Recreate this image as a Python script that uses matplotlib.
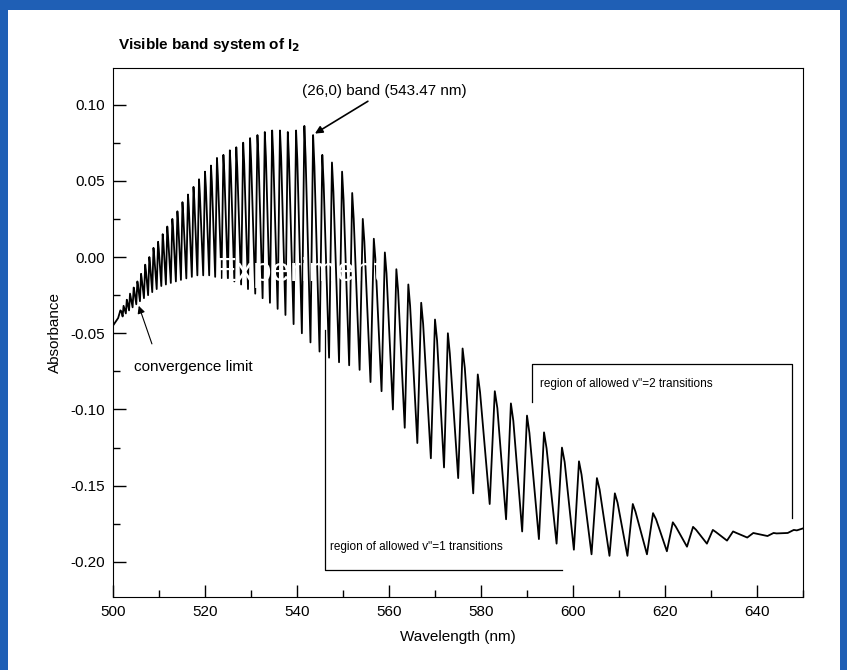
import matplotlib.pyplot as plt
import matplotlib.patches as patches
from matplotlib.ticker import MultipleLocator

# band head wavelengths (nm), peak absorbance and trough absorbance just before each head
band_pos = [501.6, 502.3, 503.0, 503.7, 504.5, 505.3, 506.1, 507.0, 507.9, 508.8,
            509.8, 510.8, 511.8, 512.9, 514.0, 515.1, 516.3, 517.5, 518.7, 520.0,
            521.3, 522.6, 524.0, 525.4, 526.8, 528.3, 529.8, 531.4, 533.0, 534.6,
            536.3, 538.0, 539.8, 541.6, 543.5, 545.5, 547.6, 549.8, 552.0, 554.3,
            556.7, 559.1, 561.6, 564.2, 567.0, 570.0, 572.8, 576.0, 579.3, 583.0,
            586.5, 590.0, 593.7, 597.6, 601.3, 605.2, 609.1, 613.0, 617.4, 621.7,
            626.1, 630.4, 634.8, 639.2, 643.6, 648.0]
band_peak = [-0.035, -0.032, -0.028, -0.024, -0.020, -0.016, -0.011, -0.005, 0.000, 0.006,
             0.010, 0.015, 0.020, 0.025, 0.030, 0.036, 0.041, 0.046, 0.051, 0.056,
             0.060, 0.065, 0.067, 0.070, 0.072, 0.075, 0.078, 0.080, 0.082, 0.083,
             0.083, 0.082, 0.083, 0.086, 0.080, 0.067, 0.062, 0.056, 0.042, 0.025,
             0.012, 0.003, -0.008, -0.018, -0.030, -0.041, -0.050, -0.060, -0.077, -0.088,
             -0.096, -0.104, -0.115, -0.125, -0.134, -0.145, -0.155, -0.162, -0.168, -0.174,
             -0.177, -0.179, -0.180, -0.181, -0.181, -0.179]
band_trough = [-0.040, -0.039, -0.037, -0.035, -0.033, -0.031, -0.029, -0.027, -0.025, -0.023,
               -0.021, -0.019, -0.018, -0.017, -0.016, -0.015, -0.014, -0.013, -0.012, -0.012,
               -0.012, -0.013, -0.014, -0.015, -0.016, -0.018, -0.021, -0.024, -0.027, -0.030,
               -0.034, -0.038, -0.044, -0.050, -0.056, -0.062, -0.066, -0.069, -0.071, -0.074,
               -0.082, -0.088, -0.100, -0.112, -0.122, -0.132, -0.138, -0.145, -0.155, -0.162,
               -0.172, -0.180, -0.185, -0.188, -0.192, -0.195, -0.196, -0.196, -0.195, -0.193,
               -0.190, -0.188, -0.186, -0.184, -0.183, -0.181]
start_point = (500.0, -0.045)
end_point = (650.0, -0.178)

x = [start_point[0]]
y = [start_point[1]]
prev = start_point[0]
for p, hi, lo in zip(band_pos, band_peak, band_trough):
    gap = p - prev
    x += [p - 0.3 * gap, p, p + 0.15 * gap]
    y += [lo, hi, hi - 0.15 * (hi - lo)]
    prev = p
x.append(end_point[0])
y.append(end_point[1])

plt.rcParams['font.family'] = ['Liberation Sans', 'DejaVu Sans']

fig = plt.figure(figsize=(8.47, 6.7), dpi=100)
fig.patch.set_facecolor('#1f5fb5')
fig.patches.append(patches.Rectangle((8 / 847, 0), 832 / 847, 660 / 670,
                                     transform=fig.transFigure, facecolor='white',
                                     edgecolor='none', zorder=-10))

ax = fig.add_axes([113 / 847, 1 - 597 / 670, 690 / 847, 529 / 670])
ax.set_zorder(2)
ax.plot(x, y, color='black', lw=1.3)

ax.set_xlim(500, 650)
ax.set_ylim(-0.223, 0.124)
ax.xaxis.set_major_locator(MultipleLocator(20))
ax.xaxis.set_minor_locator(MultipleLocator(10))
ax.yaxis.set_major_locator(MultipleLocator(0.05))
ax.yaxis.set_minor_locator(MultipleLocator(0.025))
ax.tick_params(which='major', direction='in', length=9, width=1, labelsize=11, pad=6)
ax.tick_params(which='minor', direction='in', length=5, width=1)
ax.yaxis.set_major_formatter(plt.FuncFormatter(lambda v, _: f'{v:.2f}'))
ax.set_xlabel('Wavelength (nm)', fontsize=11, labelpad=8)
ax.set_ylabel('Absorbance', fontsize=11, labelpad=6)

fig.text(118 / 847, 1 - 45 / 670, r'Visible band system of I$_\mathbf{2}$',
         fontsize=11, fontweight='bold', va='center')

ax.annotate('(26,0) band (543.47 nm)', xy=(543.9, 0.081), xytext=(541, 0.104),
            fontsize=11, ha='left', va='bottom',
            arrowprops=dict(arrowstyle='-|>', color='black', lw=1.2, shrinkA=0, shrinkB=0))
ax.annotate('convergence limit', xy=(505.6, -0.032), xytext=(504.5, -0.072),
            fontsize=11, ha='left', va='center',
            arrowprops=dict(arrowstyle='-|>', color='black', lw=0.8, shrinkA=10, shrinkB=0,
                            relpos=(0.2, 1.0)))

ax.plot([546.1, 546.1, 597.6], [-0.048, -0.205, -0.205], color='black', lw=0.9)
ax.text(547.2, -0.19, 'region of allowed v"=1 transitions', fontsize=8.5, va='center')
ax.plot([591.1, 591.1, 647.6, 647.6], [-0.095, -0.070, -0.070, -0.171], color='black', lw=0.9)
ax.text(592.8, -0.083, 'region of allowed v"=2 transitions', fontsize=8.5, va='center')

ax.text(522, -0.01, 'Experiment', color='white', fontsize=24, va='center', zorder=5)

fig.savefig('out.png', dpi=100, facecolor=fig.get_facecolor())
